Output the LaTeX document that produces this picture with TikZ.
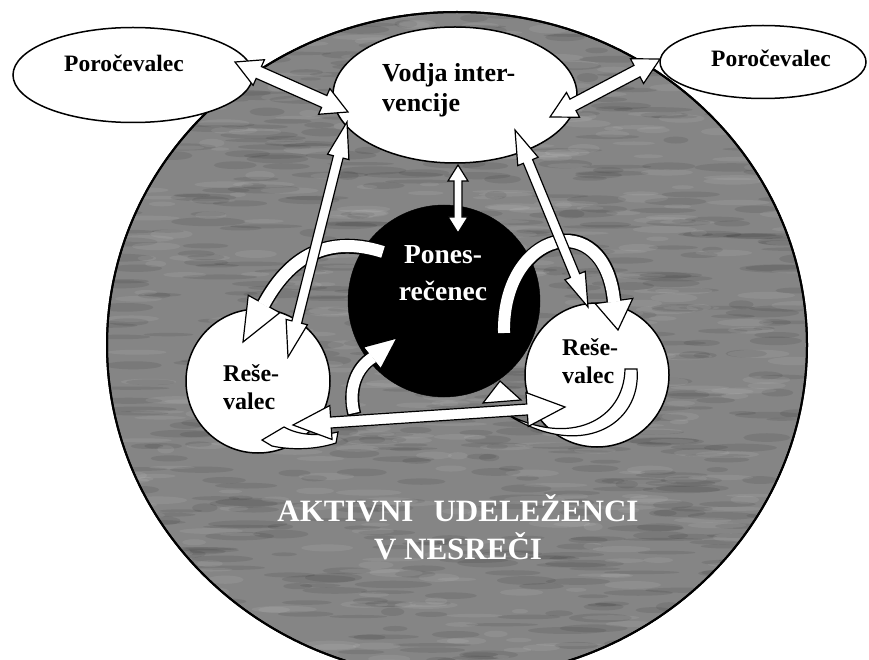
\documentclass[tikz,border=0pt]{standalone}
\usepackage{fontspec}
\setmainfont{Liberation Serif}
\usetikzlibrary{calc,shapes.geometric}
\newcommand\dblarrow[5]{%
 \filldraw[blockarrow] (#1) -- ($(#1)!#5!(#2)!#4!90:(#2)$) -- ($(#1)!#5!(#2)!#3!90:(#2)$)
  -- ($(#2)!#5!(#1)!#3!-90:(#1)$) -- ($(#2)!#5!(#1)!#4!-90:(#1)$) -- (#2)
  -- ($(#2)!#5!(#1)!#4!90:(#1)$) -- ($(#2)!#5!(#1)!#3!90:(#1)$)
  -- ($(#1)!#5!(#2)!#3!-90:(#2)$) -- ($(#1)!#5!(#2)!#4!-90:(#2)$) -- cycle;}
\begin{document}
\begin{tikzpicture}[x=1pt,y=-1pt,
  bubble/.style={ellipse,draw=black,line width=1.5pt,fill=white,inner sep=0pt},
  disc/.style={circle,draw=black,line width=1.5pt,fill=white,inner sep=0pt,minimum size=144pt},
  blockarrow/.style={fill=white,draw=black,line width=1.2pt,line join=miter},
  lbl/.style={inner sep=0pt},
  bandout/.style={draw=black,line width=15pt},
  bandin/.style={draw=white,line width=12pt}]
\useasboundingbox (0,0) rectangle (869,660);
\fill[white] (0,0) rectangle (869,660);
\clip (0,0) rectangle (869,660);
% field
\node[ellipse,draw=black,line width=2pt,fill=black!48,minimum width=700pt,minimum height=666pt,inner sep=0pt] (field) at (457,345) {};
\begin{scope}
  \clip (457,345) ellipse [x radius=349, y radius=332];
  \pgfmathsetseed{11}
  \foreach \i in {1,...,700}{
    \pgfmathsetmacro\px{457+350*rand}
    \pgfmathsetmacro\py{345+333*rand}
    \pgfmathsetmacro\rx{10+30*abs(rand)}
    \pgfmathsetmacro\ry{1.5+3*abs(rand)}
    \fill[black,opacity=0.09] (\px,\py) ellipse [x radius=\rx, y radius=\ry];
  }
  \foreach \i in {1,...,500}{
    \pgfmathsetmacro\px{457+350*rand}
    \pgfmathsetmacro\py{345+333*rand}
    \pgfmathsetmacro\rx{8+25*abs(rand)}
    \pgfmathsetmacro\ry{1.5+3*abs(rand)}
    \fill[white,opacity=0.08] (\px,\py) ellipse [x radius=\rx, y radius=\ry];
  }
\end{scope}
\draw[black,line width=2pt] (field.center) ellipse [x radius=350, y radius=333];
\node[lbl,text=white,align=center,anchor=north,font=\bfseries\fontsize{31}{38}\selectfont] (fieldtext) at (458,494) {AKTIVNI\hspace{0.4em} UDELEŽENCI\\V NESREČI};
% bubbles
\node[bubble,minimum width=240pt,minimum height=95pt] (por1) at (133,75) {};
\node[bubble,minimum width=206pt,minimum height=73pt] (por2) at (763,62) {};
\node[bubble,minimum width=244pt,minimum height=136pt] (vodja) at (455,95) {};
\node[circle,fill=black,draw=black,minimum size=192pt,inner sep=0pt] (pones) at (444,301) {};
\node[disc] (res1) at (258,381) {};
\node[disc] (res2) at (597,375) {};
% texts
\node[lbl,font=\bfseries\fontsize{23.5}{28}\selectfont] (por1t) at (124,63) {Poročevalec};
\node[lbl,font=\bfseries\fontsize{23.5}{28}\selectfont] (por2t) at (771,58) {Poročevalec};
\node[lbl,align=left,anchor=north west,font=\bfseries\fontsize{26}{30}\selectfont] (vodjat) at (382,63) {Vodja inter-\\vencije};
\node[lbl,text=white,align=center,anchor=north,font=\bfseries\fontsize{27.5}{37}\selectfont] (ponest) at (443,245) {Pones-\\rečenec};
\node[lbl,align=left,anchor=north west,font=\bfseries\fontsize{24}{28}\selectfont] (res1t) at (223,364) {Reše-\\valec};
\node[lbl,align=left,anchor=north west,font=\bfseries\fontsize{24}{28}\selectfont] (res2t) at (562,338) {Reše-\\valec};
% curved arrow: Ponesrecenec -> right Resevalec
\coordinate (r1s) at (504,333); \coordinate (r1b) at (614,301); \coordinate (r1t) at (618,330);
\draw[bandout,shorten <=-1.5pt] (r1s) .. controls (502,230) and (605,205) .. (r1b);
\filldraw[blockarrow] (r1t) -- ($(r1b)!19pt!90:(r1t)$) -- ($(r1b)!19pt!-90:(r1t)$) -- cycle;
\draw[bandin,shorten >=-1pt] (r1s) .. controls (502,230) and (605,205) .. (r1b);
% curved arrow: Ponesrecenec -> left Resevalec
\coordinate (l1s) at (383,252); \coordinate (l1b) at (264,304); \coordinate (l1t) at (243,342);
\draw[bandout,shorten <=-1.5pt] (l1s) .. controls (320,232) and (285,265) .. (l1b);
\filldraw[blockarrow] (l1t) -- ($(l1b)!18pt!90:(l1t)$) -- ($(l1b)!18pt!-90:(l1t)$) -- cycle;
\draw[bandin,shorten >=-1pt] (l1s) .. controls (320,232) and (285,265) .. (l1b);
% bent arrow: left Resevalec -> Ponesrecenec
\coordinate (l2s) at (354,413); \coordinate (l2b) at (372,358); \coordinate (l2t) at (397,338);
\draw[draw=black,line width=14pt,shorten <=-1.5pt] (l2s) .. controls (348,390) and (356,368) .. (l2b);
\filldraw[blockarrow] (l2t) -- ($(l2b)!14pt!90:(l2t)$) -- ($(l2b)!14pt!-90:(l2t)$) -- cycle;
\draw[draw=white,line width=11pt,shorten >=-1pt] (l2s) .. controls (348,390) and (356,368) .. (l2b);
% crescents
\filldraw[blockarrow] (262,440) -- (284,427) .. controls (300,436) and (320,436) .. (338,432)
  -- (336,443) .. controls (315,450) and (290,450) .. (272,446) -- cycle;
\filldraw[blockarrow] (637,369) .. controls (642,425) and (580,462) .. (505,413)
  .. controls (570,448) and (624,420) .. (625,369) -- cycle;
% straight double arrows
\coordinate (a1s) at (235,62);  \coordinate (a1e) at (348,112);
\coordinate (a2s) at (660,59);  \coordinate (a2e) at (550,117);
\coordinate (a3s) at (458,165); \coordinate (a3e) at (458,233);
\coordinate (a4s) at (347,122); \coordinate (a4e) at (288,357);
\coordinate (a5s) at (515,130); \coordinate (a5e) at (588,307);
\coordinate (a6s) at (293,425); \coordinate (a6e) at (565,407);
\dblarrow{a1s}{a1e}{6.5pt}{14pt}{26pt}
\dblarrow{a2s}{a2e}{6.5pt}{14pt}{26pt}
\dblarrow{a3s}{a3e}{4pt}{10pt}{16pt}
\dblarrow{a4s}{a4e}{5pt}{11pt}{36pt}
\dblarrow{a5s}{a5e}{5pt}{11pt}{34pt}
\dblarrow{a6s}{a6e}{5.5pt}{17pt}{38pt}
% small head on the shaft
\filldraw[blockarrow] (483,403) -- (500,381) -- (521,400) -- cycle;
\end{tikzpicture}
\end{document}
